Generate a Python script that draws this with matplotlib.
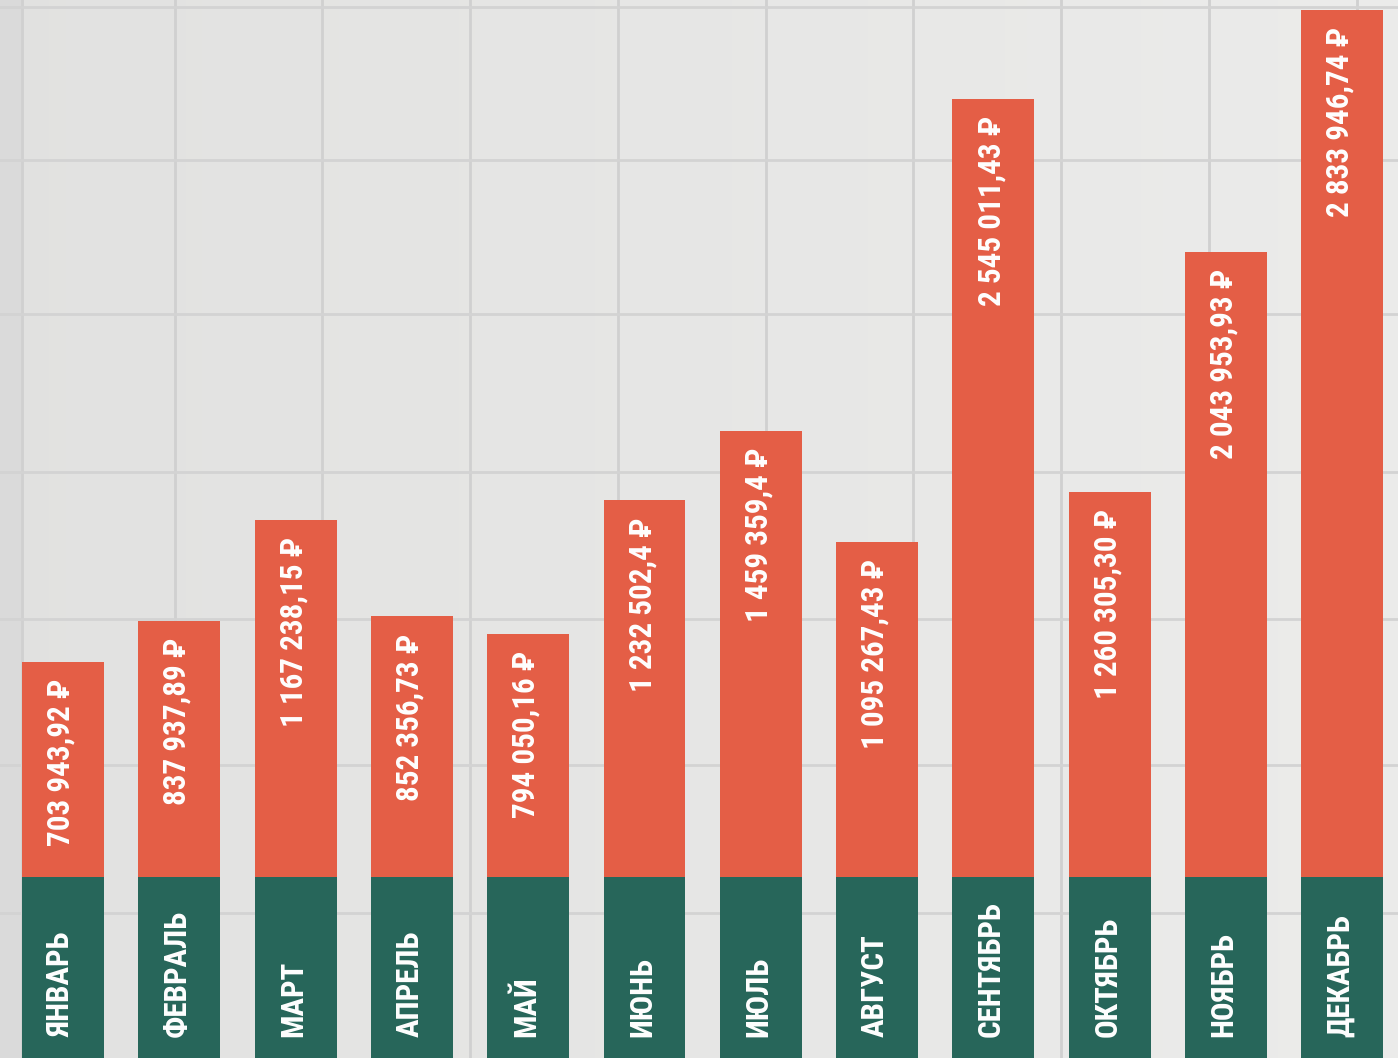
import numpy as np
import matplotlib
matplotlib.use('Agg')
import matplotlib.pyplot as plt
from matplotlib import font_manager as fm

months = ['ЯНВАРЬ', 'ФЕВРАЛЬ', 'МАРТ', 'АПРЕЛЬ', 'МАЙ', 'ИЮНЬ',
          'ИЮЛЬ', 'АВГУСТ', 'СЕНТЯБРЬ', 'ОКТЯБРЬ', 'НОЯБРЬ', 'ДЕКАБРЬ']
values = [703943.92, 837937.89, 1167238.15, 852356.73, 794050.16, 1232502.40,
          1459359.40, 1095267.43, 2545011.43, 1260305.30, 2043953.93, 2833946.74]
value_labels = ['703 943,92 ₽', '837 937,89 ₽', '1 167 238,15 ₽', '852 356,73 ₽',
                '794 050,16 ₽', '1 232 502,4 ₽', '1 459 359,4 ₽', '1 095 267,43 ₽',
                '2 545 011,43 ₽', '1 260 305,30 ₽', '2 043 953,93 ₽', '2 833 946,74 ₽']

red = '#e45e46'
green = '#27665a'

# pick a narrow font if one is around
fonts = [(f.name, str(f.stretch)) for f in fm.fontManager.ttflist]
names = {n for n, s in fonts}
fam, stretch = ['DejaVu Sans'], 'normal'
for narrow in ['Liberation Sans Narrow', 'Roboto Condensed', 'Open Sans Condensed']:
    if narrow in names:
        fam, stretch = [narrow, 'DejaVu Sans'], 'normal'
        break
else:
    for base_name in ['Noto Sans', 'Open Sans', 'Roboto', 'DejaVu Sans']:
        if any(n == base_name and 'condensed' in s for n, s in fonts):
            fam, stretch = [base_name, 'DejaVu Sans'], 'condensed'
            break

W, H = 1398, 1058
fig = plt.figure(figsize=(W / 100, H / 100), dpi=100)

# fit the font size so the first label is about as long as in the picture
probe = fig.text(0, 0, value_labels[0], rotation=90, fontsize=20,
                 fontweight='bold', family=fam, fontstretch=stretch)
ext = probe.get_window_extent(renderer=fig.canvas.get_renderer())
fsize = 20 * 167 / ext.height
probe.remove()

# notebook-like background with soft gradient
bg = fig.add_axes([0, 0, 1, 1])
grad = np.linspace(0.885, 0.925, 256).reshape(1, -1)
bg.imshow(np.dstack([grad, grad, grad * 0.995]), aspect='auto',
          extent=[0, W, H, 0])
bg.axvspan(0, 22, color='#dadada', lw=0)
bg.set_xlim(0, W)
bg.set_ylim(H, 0)
for gx in [22, 175, 322, 470, 618, 766, 913, 1061, 1209, 1357]:
    bg.axvline(gx, color='#d0d0d0', lw=2)
for gy in [7, 160, 314, 472, 619, 765, 913]:
    bg.axhline(gy, color='#d3d3d3', lw=2)
bg.axis('off')

# bars
scale = 3270.0  # rubles per pixel
base = 181 * scale
ax = fig.add_axes([0, 0, 1, 1])
ax.patch.set_visible(False)
x = np.arange(len(months))
ax.bar(x, values, width=0.705, bottom=0, color=red, zorder=2)
ax.bar(x, [base] * len(months), width=0.705, bottom=-base, color=green, zorder=3)

for i in range(len(months)):
    ax.text(x[i] - 0.02, values[i] - 17 * scale, value_labels[i], rotation=90,
            ha='center', va='top', color='white', fontsize=fsize,
            fontweight='bold', family=fam, fontstretch=stretch, zorder=4)
    ax.text(x[i] - 0.02, -base + 21 * scale, months[i], rotation=90,
            ha='center', va='bottom', color='white', fontsize=fsize,
            fontweight='bold', family=fam, fontstretch=stretch, zorder=4)

ax.set_xlim(-63 / 116.3, (W - 63) / 116.3)
ax.set_ylim(-base, 877 * scale)
ax.axis('off')

fig.savefig('out.png', dpi=100)
